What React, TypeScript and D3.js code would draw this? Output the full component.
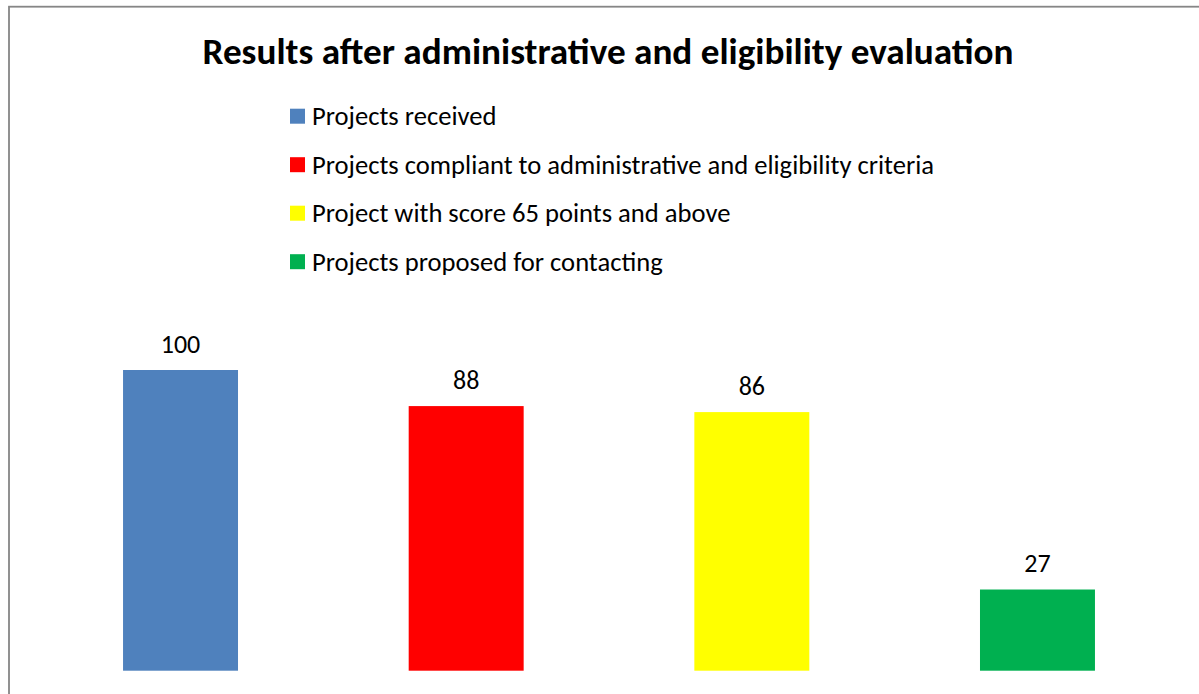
import React from "react";
import * as d3 from "d3";

const categories = [
  "Projects received",
  "Projects compliant to administrative and eligibility criteria",
  "Project with score 65 points and above",
  "Projects proposed for contacting",
];
const values = [100, 88, 86, 27];
const colors = ["#4F81BD", "#FF0000", "#FFFF00", "#00B050"];
const title = "Results after administrative and eligibility evaluation";

export default function App() {
  const W = 1199;
  const H = 694;
  const x = d3.scaleBand<string>().domain(categories).range([37.7, 1180.3]).paddingInner(0.5975).paddingOuter(0.29875);
  const y = d3.scaleLinear().domain([0, 100]).range([670.7, 370]);
  const font = "Carlito, Calibri, Lato, 'Open Sans', sans-serif";
  return (
    <svg width={W} height={H} style={{ position: "absolute", left: 0, top: 0 }} fontFamily={font}>
      <rect x={0} y={0} width={W} height={H} fill="#fff" />
      <rect x={9} y={6.7} width={1300} height={800} fill="none" stroke="#868686" strokeWidth={1.8} />
      <text x={608} y={63.5} textAnchor="middle" fontSize={37.2} fontWeight="bold" fill="#000">{title}</text>
      {categories.map((c, i) => (
        <g key={c} transform={`translate(290, ${123.2 + i * 48.5})`}>
          <rect x={0} y={-14.5} width={15} height={15} fill={colors[i]} />
          <text x={22} y={1.8} fontSize={26.6} fill="#000">{c}</text>
        </g>
      ))}
      {categories.map((c, i) => (
        <g key={"b" + c}>
          <rect x={x(c)!} y={y(values[i])} width={x.bandwidth()} height={y(0) - y(values[i])} fill={colors[i]} />
          <text x={x(c)! + x.bandwidth() / 2} y={y(values[i]) - 17.5} textAnchor="middle" fontSize={26} fill="#000">{values[i]}</text>
        </g>
      ))}
    </svg>
  );
}
